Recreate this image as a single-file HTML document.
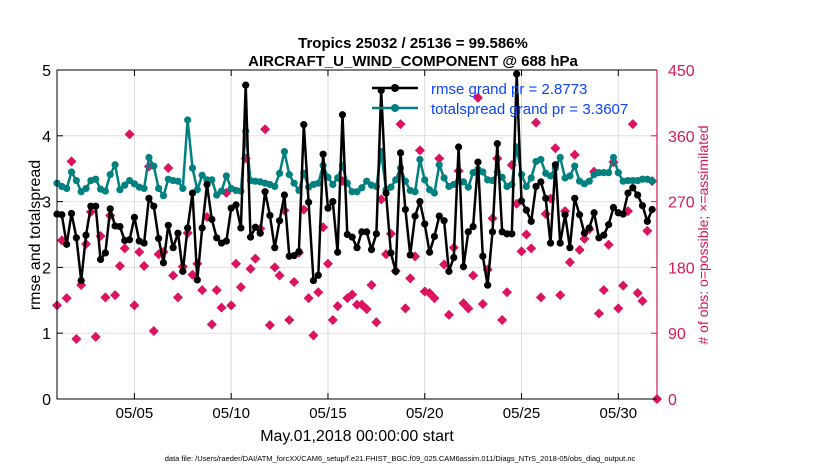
<!DOCTYPE html>
<html><head><meta charset="utf-8">
<style>
html,body{margin:0;padding:0;background:#fff;}
svg{display:block;font-family:"Liberation Sans",Arial,sans-serif;}
</style></head>
<body>
<svg id="chart" width="830" height="470" viewBox="0 0 830 470" xmlns="http://www.w3.org/2000/svg">
<text x="413" y="48" text-anchor="middle" font-size="15" font-weight="bold">Tropics 25032 / 25136 = 99.586%</text>
<text x="413" y="66" text-anchor="middle" font-size="15" font-weight="bold">AIRCRAFT_U_WIND_COMPONENT @ 688 hPa</text>
<g id="grid"></g>
<g id="marks"></g>
<g id="axes"></g>
<text transform="translate(40,235) rotate(-90)" text-anchor="middle" font-size="16">rmse and totalspread</text>
<text transform="translate(708,235) rotate(-90)" text-anchor="middle" font-size="14" fill="#d6175a"># of obs: o=possible; ×=assimilated</text>
<text x="357" y="441" text-anchor="middle" font-size="16">May.01,2018 00:00:00 start</text>
<text x="400" y="461" text-anchor="middle" font-size="7.5">data file: /Users/raeder/DAI/ATM_forcXX/CAM6_setup/f.e21.FHIST_BGC.f09_025.CAM6assim.011/Diags_NTrS_2018-05/obs_diag_output.nc</text>
<g>
<line x1="372" y1="88" x2="418" y2="88" stroke="#000" stroke-width="2.5"/>
<circle cx="395" cy="88" r="4" fill="#000"/>
<text x="431" y="94" font-size="15" fill="#0a44ff">rmse grand pr = 2.8773</text>
<line x1="372" y1="108" x2="418" y2="108" stroke="#00807f" stroke-width="2.5"/>
<circle cx="395" cy="108" r="4" fill="#00807f"/>
<text x="431" y="114" font-size="15" fill="#0a44ff">totalspread grand pr = 3.3607</text>
</g>
</svg>
<script>
const rmse = [2.81,2.80,2.35,2.82,2.45,1.80,2.49,2.93,2.93,2.12,2.22,2.89,2.63,2.62,2.41,2.42,2.76,2.40,2.37,3.05,2.93,2.44,2.07,2.64,2.30,2.52,1.94,2.6,3.13,1.81,2.60,3.26,
2.73,2.45,2.37,2.40,2.90,2.95,2.60,4.77,2.46,2.61,2.52,3.15,2.79,2.30,2.71,3.10,2.17,2.18,2.24,4.17,2.99,1.80,1.88,3.72,2.90,3.00,2.23,4.32,2.50,2.46,2.30,
2.54,2.54,2.27,2.51,4.69,3.13,2.22,1.94,3.74,2.88,2.19,2.78,3.00,2.66,2.23,2.47,2.78,2.71,1.94,2.15,3.83,2.01,2.54,2.62,3.60,2.17,1.73,2.54,3.88,2.54,2.51,
2.51,4.94,3.01,2.87,2.70,3.23,3.30,3.05,2.37,3.56,2.37,2.80,2.30,3.05,2.80,2.52,2.60,2.83,2.45,2.49,2.65,2.91,2.83,2.81,3.13,3.21,3.10,2.94,2.70,2.88];
const totalspread = [3.28,3.23,3.20,3.45,3.32,3.15,3.20,3.32,3.34,3.19,3.16,3.41,3.56,3.18,3.25,3.32,3.27,3.22,3.20,3.67,3.54,3.20,3.09,3.34,3.32,3.31,3.20,4.24,3.51,3.18,3.40,3.33,
3.33,3.10,3.16,3.39,3.20,3.17,3.16,4.07,3.32,3.31,3.30,3.28,3.26,3.23,3.43,3.76,3.41,3.28,3.17,3.43,3.22,3.26,3.28,3.55,3.37,3.26,3.36,3.55,3.28,3.15,3.15,
3.21,3.31,3.25,3.23,3.76,3.18,3.22,3.33,3.51,3.31,3.17,3.15,3.64,3.33,3.18,3.13,3.56,3.36,3.23,3.26,3.31,3.30,3.22,3.44,3.49,3.45,3.33,3.32,3.45,3.37,3.23,
3.26,3.83,3.41,3.23,3.36,3.61,3.64,3.43,3.39,3.51,3.67,3.36,3.39,3.54,3.31,3.27,3.31,3.41,3.44,3.44,3.44,3.67,3.44,3.31,3.32,3.32,3.32,3.34,3.34,3.31];
const obsCount = [128,217,138,325,82,156,212,256,85,223,139,251,142,182,206,362,128,201,182,318,93,198,201,316,169,139,181,227,170,185,149,249,
102,149,125,282,128,185,153,329,178,192,233,369,101,180,169,258,108,160,200,259,138,87,146,235,185,108,127,298,138,143,129,
129,123,156,105,273,198,226,175,376,124,165,195,340,147,145,138,329,184,115,207,312,131,124,169,412,130,177,247,329,108,146,
320,267,202,225,206,378,139,253,274,343,142,257,187,334,204,219,232,311,117,149,211,324,124,155,257,376,145,134,230,298,0];
const xTickDays = [4,9,14,19,24,29];
const xTickLabels = ["05/05","05/10","05/15","05/20","05/25","05/30"];
const yTicks = [0,1,2,3,4,5];
const y2Ticks = [0,90,180,270,360,450];
const stepDays = 0.25;

const X0=57,X1=657,Y0=399,Y1=70;
const xs = d => X0 + d/31*(X1-X0);
const ys = v => Y0 - v/5*(Y0-Y1);
const ys2 = v => Y0 - v/450*(Y0-Y1);
const NS="http://www.w3.org/2000/svg";
function mk(tag, attrs, parent){const e=document.createElementNS(NS,tag);for(const k in attrs)e.setAttribute(k,attrs[k]);parent.appendChild(e);return e;}
const grid=document.getElementById('grid'), marks=document.getElementById('marks'), axes=document.getElementById('axes');

xTickDays.forEach((d,i)=>{
  const l=mk('line',{x1:xs(d),x2:xs(d),y1:Y1,y2:Y0,stroke:'#dcdcdc','stroke-width':1},grid);
  
  
  const t=mk('text',{x:xs(d),y:418,'text-anchor':'middle','font-size':15},axes);
  t.textContent=xTickLabels[i];
  
  
  mk('line',{x1:xs(d),x2:xs(d),y1:Y0,y2:Y0-6,stroke:'#000'},axes);
  mk('line',{x1:xs(d),x2:xs(d),y1:Y1,y2:Y1+6,stroke:'#000'},axes);
});
y2Ticks.forEach(v=>{
  if(v>0&&v<450){
    const l=mk('line',{x1:X0,x2:X1,y1:ys2(v),y2:ys2(v),stroke:'#f7d3e0','stroke-width':1},grid);
    
    
  }
  const t=mk('text',{x:668,y:ys2(v)+6,'font-size':16,fill:'#d6175a'},axes);
  t.textContent=v;
  
  
  mk('line',{x1:X1,x2:X1-6,y1:ys2(v),y2:ys2(v),stroke:'#d6175a'},axes);
});
yTicks.forEach(v=>{
  const t=mk('text',{x:51,y:ys(v)+6,'text-anchor':'end','font-size':16},axes);
  t.textContent=v;
  
  
  mk('line',{x1:X0,x2:X0+6,y1:ys(v),y2:ys(v),stroke:'#000'},axes);
});
const frame=mk('path',{d:`M${X1},${Y1}H${X0}V${Y0}H${X1}`,fill:'none',stroke:'#000','stroke-width':1},axes);


const r=mk('line',{x1:X1,x2:X1,y1:Y1,y2:Y0,stroke:'#d6175a','stroke-width':1.2},axes);



obsCount.forEach((v,i)=>{
  const x=xs(i*stepDays), y=ys2(v);
  const g=mk('g',{},marks);
  
  
  mk('path',{d:`M${x},${y-5}L${x+5},${y}L${x},${y+5}L${x-5},${y}Z`,fill:'#dc1460'},g);
  mk('path',{d:`M${x-4},${y}H${x+4}M${x},${y-4}V${y+4}`,stroke:'#dc1460','stroke-width':2.5},g);
});
function series(arr,color,name){
  const pts=arr.map((v,i)=>xs(i*stepDays).toFixed(1)+','+ys(v).toFixed(1)).join(' ');
  const pl=mk('polyline',{points:pts,fill:'none',stroke:color,'stroke-width':2.5,'stroke-linejoin':'round'},marks);
  
  
  arr.forEach((v,i)=>{
    const c=mk('circle',{cx:xs(i*stepDays),cy:ys(v),r:3.6,fill:color},marks);
    
    
  });
}
series(totalspread,'#00807f','totalspread');
series(rmse,'#000000','rmse');
</script>
</body></html>
